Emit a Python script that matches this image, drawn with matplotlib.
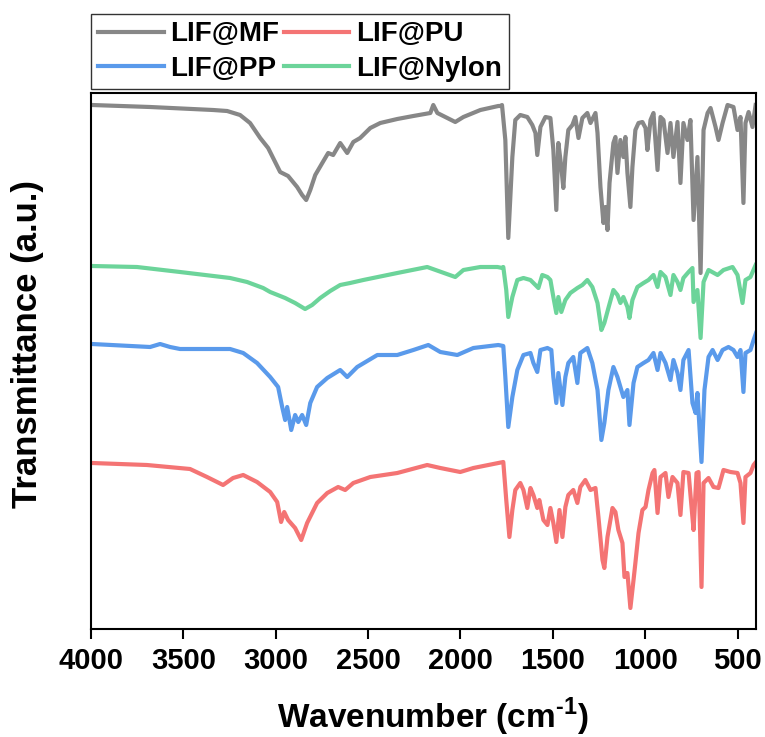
import matplotlib
matplotlib.use("Agg")
import matplotlib.pyplot as plt
from matplotlib.font_manager import FontProperties

plt.rcParams['font.family'] = ['Liberation Sans', 'DejaVu Sans']
plt.rcParams['mathtext.fontset'] = 'custom'
plt.rcParams['mathtext.bf'] = 'Liberation Sans:bold'
plt.rcParams['mathtext.rm'] = 'Liberation Sans:bold'

# FTIR spectra, stacked with offsets (arbitrary transmittance units)
mf_wn = [3995, 3680, 3339, 3263, 3193, 3139, 3084, 3041, 3014, 2976, 2933, 2884, 2857,
         2835, 2813, 2786, 2748, 2716, 2689, 2651, 2613, 2580, 2543, 2488, 2434, 2342,
         2255, 2163, 2147, 2125, 2028, 1984, 1892, 1795, 1784, 1775, 1757, 1741, 1719,
         1703, 1676, 1638, 1611, 1594, 1584, 1567, 1540, 1513, 1497, 1481, 1470, 1454,
         1443, 1432, 1416, 1394, 1378, 1361, 1340, 1313, 1296, 1269, 1258, 1242, 1226,
         1215, 1204, 1193, 1172, 1161, 1150, 1134, 1118, 1107, 1096, 1080, 1069, 1053,
         1036, 1015, 998, 988, 971, 955, 933, 917, 901, 879, 863, 847, 825, 809, 793,
         771, 755, 738, 717, 700, 684, 662, 646, 619, 603, 581, 554, 522, 500, 484,
         468, 457, 440, 419, 402]
mf_t = [524, 522, 519, 518, 514, 506, 491, 481, 471, 457, 453, 442, 434,
        429, 439, 454, 466, 476, 474, 486, 476, 487, 491, 501, 506, 510,
        513, 516, 524, 516, 507, 512, 519, 523, 523, 524, 489, 391, 472,
        509, 514, 512, 504, 496, 474, 502, 512, 511, 479, 419, 486, 462,
        441, 472, 499, 504, 512, 491, 511, 516, 506, 516, 496, 442, 406,
        422, 399, 446, 486, 492, 456, 489, 472, 492, 456, 422, 462, 499,
        506, 507, 501, 479, 509, 516, 459, 512, 509, 476, 506, 472, 507, 446, 506,
        489, 509, 409, 472, 356, 499, 516, 521, 502, 489, 506, 524, 522, 499, 512,
        426, 506, 517, 502, 524]

pu_wn = [3995, 3697, 3464, 3372, 3285, 3231, 3176, 3101, 3030, 2992, 2971, 2954, 2933,
         2895, 2862, 2830, 2776, 2721, 2662, 2624, 2580, 2488, 2342, 2180, 2109, 2001,
         1930, 1795, 1768, 1752, 1735, 1719, 1703, 1676, 1659, 1638, 1621, 1605, 1584,
         1573, 1551, 1529, 1513, 1497, 1481, 1464, 1448, 1432, 1416, 1389, 1367, 1351,
         1324, 1296, 1269, 1253, 1231, 1221, 1204, 1177, 1161, 1145, 1123, 1112, 1096,
         1080, 1063, 1053, 1036, 1015, 998, 982, 960, 950, 933, 917, 890, 874, 852,
         825, 809, 793, 765, 749, 738, 722, 711, 695, 684, 657, 630, 603, 576, 538,
         500, 484, 468, 457, 430, 413, 400]
pu_t = [166, 164, 160, 152, 144, 151, 154, 147, 137, 127, 107, 117, 109,
        101, 89, 106, 126, 136, 142, 139, 146, 152, 156, 164, 161, 157,
        161, 166, 167, 129, 92, 119, 139, 146, 139, 121, 141, 134, 121,
        129, 109, 104, 121, 106, 87, 119, 92, 122, 134, 139, 126, 142,
        149, 139, 141, 112, 69, 61, 92, 121, 117, 99, 86, 52, 56,
        21, 49, 66, 96, 119, 122, 139, 156, 159, 116, 152, 156, 132, 152,
        146, 114, 157, 156, 122, 99, 156, 157, 42, 146, 151, 142, 141, 159, 157,
        156, 146, 106, 152, 156, 164, 167]

pp_wn = [3995, 3680, 3626, 3572, 3518, 3247, 3176, 3101, 3030, 2987, 2965, 2949, 2938,
         2916, 2895, 2878, 2857, 2835, 2813, 2776, 2721, 2651, 2613, 2559, 2450, 2342,
         2255, 2174, 2109, 2017, 1930, 1795, 1768, 1757, 1741, 1719, 1692, 1659, 1621,
         1605, 1584, 1567, 1529, 1508, 1497, 1481, 1470, 1448, 1432, 1416, 1389, 1367,
         1351, 1313, 1286, 1258, 1237, 1221, 1199, 1172, 1150, 1134, 1118, 1096, 1085,
         1063, 1042, 1009, 982, 955, 933, 917, 890, 863, 847, 825, 809, 793, 765,
         744, 727, 717, 695, 679, 657, 635, 608, 581, 549, 522, 500, 484, 468, 457,
         430, 413, 400]
pp_t = [285, 282, 285, 282, 280, 280, 276, 266, 252, 242, 222, 209, 222,
        199, 214, 207, 214, 204, 226, 242, 251, 259, 252, 262, 274, 274,
        279, 284, 277, 274, 281, 284, 283, 252, 202, 232, 259, 274, 276,
        266, 257, 279, 281, 279, 252, 226, 256, 224, 252, 266, 272, 246,
        276, 281, 266, 239, 189, 206, 239, 262, 252, 242, 232, 239, 204,
        246, 262, 266, 269, 276, 259, 276, 266, 249, 269, 256, 239, 269, 279,
        226, 216, 236, 167, 239, 272, 279, 269, 279, 282, 279, 272, 279, 237, 276,
        279, 289, 296]

ny_wn = [3995, 3751, 3518, 3247, 3155, 3068, 3030, 2949, 2895, 2841, 2803, 2759, 2705,
         2651, 2597, 2526, 2342, 2180, 2028, 1984, 1892, 1800, 1773, 1768, 1752, 1741,
         1719, 1692, 1659, 1621, 1594, 1578, 1557, 1529, 1513, 1497, 1481, 1470, 1454,
         1432, 1405, 1367, 1340, 1313, 1286, 1258, 1237, 1221, 1199, 1172, 1150, 1134,
         1118, 1096, 1085, 1069, 1042, 1009, 982, 955, 933, 917, 890, 863, 847, 825,
         809, 793, 765, 744, 738, 717, 700, 684, 657, 608, 576, 527, 500, 473, 457,
         430, 402]
ny_t = [363, 362, 357, 351, 347, 341, 337, 331, 326, 320, 324, 331, 338,
        344, 346, 349, 356, 362, 352, 359, 362, 362, 361, 362, 339, 312,
        332, 349, 351, 349, 344, 341, 354, 352, 349, 332, 316, 332, 317,
        329, 336, 341, 344, 349, 342, 326, 299, 306, 321, 339, 334, 326,
        332, 322, 311, 329, 342, 346, 349, 354, 342, 357, 352, 334, 354, 347,
        339, 351, 357, 361, 327, 339, 291, 347, 359, 354, 359, 362, 354, 326, 349,
        352, 364]

names = ['LIF@MF', 'LIF@PU', 'LIF@PP', 'LIF@Nylon']
colors = ['#878787', '#F47474', '#5A9AEB', '#6CD49A']
xticks = [4000, 3500, 3000, 2500, 2000, 1500, 1000, 500]

fig = plt.figure(figsize=(7.65, 7.37), dpi=100)
ax = fig.add_axes([91 / 765, 108 / 737, 665 / 765, 536 / 737])

series = [(mf_wn, mf_t), (pu_wn, pu_t), (pp_wn, pp_t), (ny_wn, ny_t)]
lines = {}
for (wn, t), name, c in zip(series, names, colors):
    ln, = ax.plot(wn, t, color=c, lw=3.0, solid_joinstyle='round', label=name)
    lines[name] = ln

ax.set_xlim(4000, 400)
ax.set_ylim(0, 536)
ax.set_yticks([])
ax.set_xticks(xticks)
ax.set_xticklabels([str(v) for v in xticks], fontsize=21, fontweight='bold')
ax.tick_params(axis='x', direction='out', length=7, width=1.5, pad=6)
for s in ax.spines.values():
    s.set_linewidth(1.5)
    s.set_color('black')

# legend: two columns, row-wise reading MF/PU then PP/Nylon
order = ['LIF@MF', 'LIF@PP', 'LIF@PU', 'LIF@Nylon']
leg = fig.legend([lines[n] for n in order], order, loc='upper left',
                 bbox_to_anchor=(91 / 765, 1 - 14 / 737), ncol=2,
                 prop=FontProperties(family='Liberation Sans', weight='bold', size=20),
                 handlelength=2.35, handletextpad=0.25, columnspacing=0.15,
                 labelspacing=0.3, borderpad=0.26, borderaxespad=0,
                 frameon=True, fancybox=False, edgecolor='#333333', framealpha=1)
leg.get_frame().set_linewidth(1.0)

fig.text(28 / 765, 1 - 343.5 / 737, 'Transmittance (a.u.)', rotation=90,
         ha='center', va='center', fontsize=25, fontweight='bold')
fig.text(433 / 765, 1 - 717 / 737, r'Wavenumber (cm$^{\text{-1}}$)',
         ha='center', va='center', fontsize=24, fontweight='bold')

fig.savefig('out.png', dpi=100)
